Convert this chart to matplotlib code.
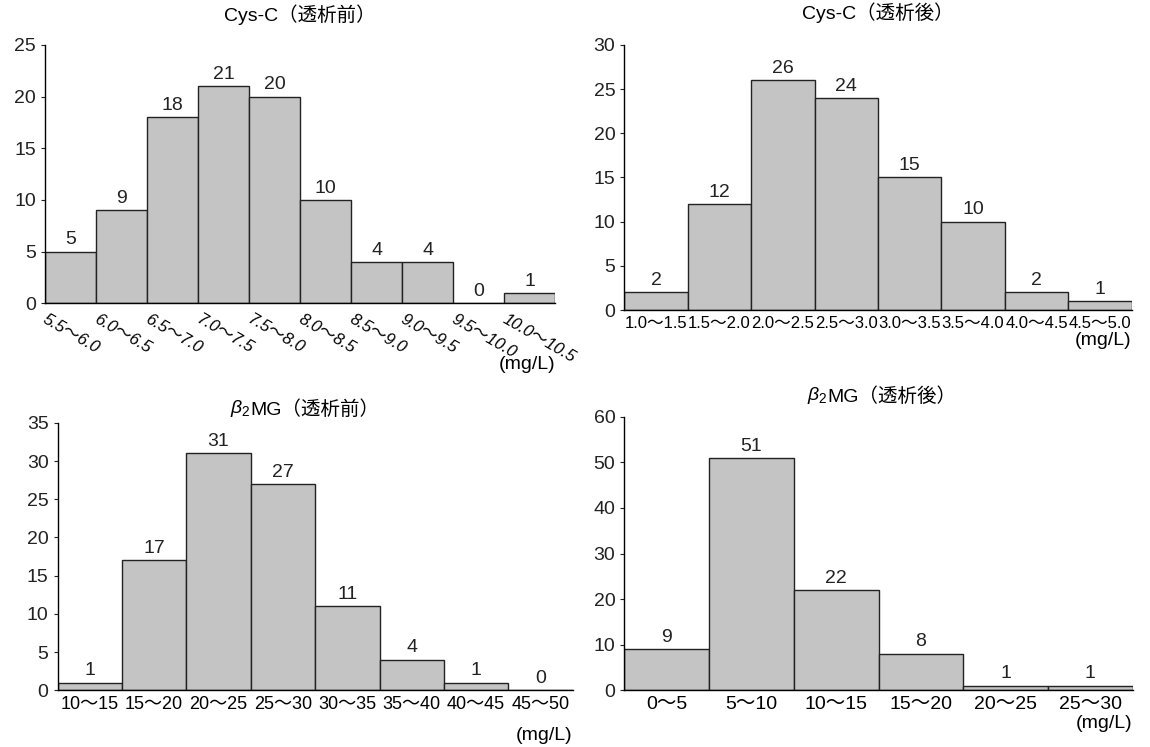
import matplotlib
matplotlib.use('Agg')
import matplotlib.pyplot as plt

plt.rcParams['font.family'] = ['Liberation Sans', 'Noto Sans CJK JP', 'DejaVu Sans']
plt.rcParams['mathtext.fontset'] = 'custom'
plt.rcParams['mathtext.it'] = 'Liberation Sans:italic'
plt.rcParams['mathtext.rm'] = 'Liberation Sans'

# Cys-C before dialysis
cys_pre_labels = ['5.5～6.0', '6.0～6.5', '6.5～7.0', '7.0～7.5', '7.5～8.0',
                  '8.0～8.5', '8.5～9.0', '9.0～9.5', '9.5～10.0', '10.0～10.5']
cys_pre_counts = [5, 9, 18, 21, 20, 10, 4, 4, 0, 1]

# Cys-C after dialysis
cys_post_labels = ['1.0～1.5', '1.5～2.0', '2.0～2.5', '2.5～3.0',
                   '3.0～3.5', '3.5～4.0', '4.0～4.5', '4.5～5.0']
cys_post_counts = [2, 12, 26, 24, 15, 10, 2, 1]

# b2MG before dialysis
b2_pre_labels = ['10～15', '15～20', '20～25', '25～30',
                 '30～35', '35～40', '40～45', '45～50']
b2_pre_counts = [1, 17, 31, 27, 11, 4, 1, 0]

# b2MG after dialysis
b2_post_labels = ['0～5', '5～10', '10～15', '15～20', '20～25', '25～30']
b2_post_counts = [9, 51, 22, 8, 1, 1]

# title parts (greek prefix, rest), labels, counts, ymax, step, rect,
# slanted ticks, tick font size, (mg/L) offset px, title offset px, title split
panels = [
    ('', 'Cys-C（透析前）', cys_pre_labels, cys_pre_counts, 25, 5,
     [0.039, 0.594, 0.444, 0.346], True, 12, -53, 20, 0.5),
    ('', 'Cys-C（透析後）', cys_post_labels, cys_post_counts, 30, 5,
     [0.543, 0.585, 0.441, 0.355], False, 12, -22, 22, 0.5),
    (r'$\beta_2$', 'MG（透析前）', b2_pre_labels, b2_pre_counts, 35, 5,
     [0.050, 0.076, 0.448, 0.358], False, 13, -37, 4, 0.375),
    (r'$\beta_2$', 'MG（透析後）', b2_post_labels, b2_post_counts, 60, 10,
     [0.543, 0.076, 0.442, 0.366], False, 14, -25, 11, 0.40),
]

fig = plt.figure(figsize=(11.5, 7.47), dpi=100)

for (greek, title, labels, counts, ymax, step, rect, slanted, tfs,
     unit_off, t_off, t_split) in panels:
    ax = fig.add_axes(rect)
    x = list(range(len(counts)))
    ax.bar(x, counts, width=1.0, color='#c4c4c4', edgecolor='#222222',
           linewidth=1.0, align='edge')
    for xi, c in zip(x, counts):
        ax.text(xi + 0.5, c + ymax * 0.012, str(c), ha='center', va='bottom',
                fontsize=14, color='#222222')
    ax.set_xlim(0, len(counts))
    ax.set_ylim(0, ymax)
    ax.set_yticks(range(0, ymax + 1, step))
    ax.tick_params(axis='y', labelsize=14, length=3, colors='#222222')
    if slanted:
        ax.set_xticks([xi + 0.06 for xi in x])
        ax.set_xticklabels(labels, rotation=-30, fontsize=tfs, style='italic',
                           ha='left', va='top', rotation_mode='anchor')
        ax.tick_params(axis='x', length=0, pad=6)
    else:
        ax.set_xticks([xi + 0.5 for xi in x])
        ax.set_xticklabels(labels, fontsize=tfs)
        ax.tick_params(axis='x', length=0, pad=4)
    ax.spines['top'].set_visible(False)
    ax.spines['right'].set_visible(False)
    ax.spines['left'].set_linewidth(1.0)
    ax.spines['bottom'].set_linewidth(1.0)

    # title: greek part in mathtext, rest in normal text (keeps CJK fallback)
    if greek:
        ax.annotate(greek, xy=(t_split, 1.0), xycoords='axes fraction',
                    xytext=(0, t_off), textcoords='offset pixels',
                    ha='right', va='bottom', fontsize=14)
        ax.annotate(title, xy=(t_split, 1.0), xycoords='axes fraction',
                    xytext=(0, t_off), textcoords='offset pixels',
                    ha='left', va='bottom', fontsize=14)
    else:
        ax.annotate(title, xy=(t_split, 1.0), xycoords='axes fraction',
                    xytext=(0, t_off), textcoords='offset pixels',
                    ha='center', va='bottom', fontsize=14)

    ax.annotate('(mg/L)', xy=(1.0, 0.0), xycoords='axes fraction',
                xytext=(0, unit_off), textcoords='offset pixels',
                ha='right', va='top', fontsize=14)

fig.savefig('out.png', dpi=100)
